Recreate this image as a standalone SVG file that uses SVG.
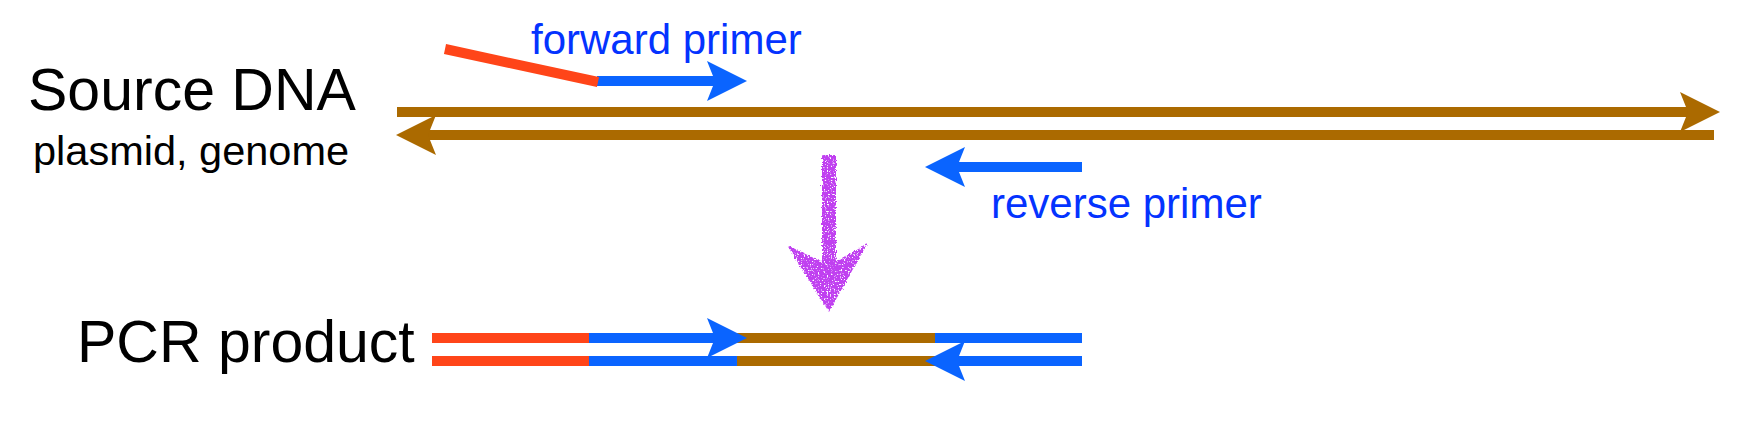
<svg xmlns="http://www.w3.org/2000/svg" width="1748" height="432" viewBox="0 0 1748 432">
  <style>
    .lbl { font-family: "Liberation Sans", Arial, Helvetica, sans-serif; fill: #000; }
    .big { font-size: 59px; }
    .sub { font-size: 41.5px; }
    .plbl { font-family: "Liberation Sans", Arial, Helvetica, sans-serif; font-size: 42px; fill: #0433FF; }
    .strand { stroke-width: 10; fill: none; stroke-linecap: butt; }
    .brown { stroke: #AB6A00; }
    .blue { stroke: #0A64FF; }
    .red { stroke: #FF4519; }
  </style>
  <defs>
    <marker id="ah-brown" markerUnits="userSpaceOnUse" viewBox="-12 -22 44 44" refX="0" refY="0" markerWidth="44" markerHeight="44" orient="auto">
      <path d="M30,0 L-10,-20 L-2,0 L-10,20 Z" fill="#AB6A00"/>
    </marker>
    <marker id="ah-blue" markerUnits="userSpaceOnUse" viewBox="-12 -22 44 44" refX="0" refY="0" markerWidth="44" markerHeight="44" orient="auto">
      <path d="M30,0 L-10,-20 L-2,0 L-10,20 Z" fill="#0A64FF"/>
    </marker>
    <filter id="chalk" x="-30%" y="-10%" width="160%" height="120%">
      <feTurbulence type="fractalNoise" baseFrequency="0.55" numOctaves="2" seed="4" result="n"/>
      <feDisplacementMap in="SourceGraphic" in2="n" scale="5" xChannelSelector="R" yChannelSelector="G" result="d"/>
      <feTurbulence type="fractalNoise" baseFrequency="0.7" numOctaves="1" seed="9" result="s"/>
      <feColorMatrix in="s" type="matrix" values="0 0 0 0 0  0 0 0 0 0  0 0 0 0 0  0 0 0 -8 5.6" result="mask"/>
      <feComposite in="d" in2="mask" operator="in"/>
    </filter>
  </defs>

  <g id="source-dna">
    <text class="lbl big" x="28" y="110">Source DNA</text>
    <text class="lbl sub" x="33" y="165">plasmid, genome</text>
    <line class="strand brown" x1="397" y1="112" x2="1690" y2="112" marker-end="url(#ah-brown)"/>
    <line class="strand brown" x1="1714" y1="135" x2="426" y2="135" marker-end="url(#ah-brown)"/>
  </g>

  <g id="forward-primer">
    <line class="strand blue" x1="597" y1="81" x2="717" y2="81" marker-end="url(#ah-blue)"/>
    <line class="strand red" x1="445" y1="49" x2="598" y2="82"/>
    <text class="plbl" x="531" y="54">forward primer</text>
  </g>

  <g id="reverse-primer">
    <line class="strand blue" x1="1082" y1="167" x2="955" y2="167" marker-end="url(#ah-blue)"/>
    <text class="plbl" x="991" y="218">reverse primer</text>
  </g>

  <g id="pcr-product">
    <text class="lbl big" x="77" y="362">PCR product</text>
    <line class="strand red" x1="432" y1="338" x2="590" y2="338"/>
    <line class="strand red" x1="432" y1="361" x2="590" y2="361"/>
    <line class="strand brown" x1="735" y1="338" x2="936" y2="338"/>
    <line class="strand brown" x1="736" y1="361" x2="945" y2="361"/>
    <line class="strand blue" x1="589" y1="338" x2="717" y2="338" marker-end="url(#ah-blue)"/>
    <line class="strand blue" x1="589" y1="361" x2="737" y2="361"/>
    <line class="strand blue" x1="935" y1="338" x2="1082" y2="338"/>
    <line class="strand blue" x1="1082" y1="361" x2="955" y2="361" marker-end="url(#ah-blue)"/>
  </g>

  <g id="connectors">
    <g id="pcr-arrow" filter="url(#chalk)" fill="#C040F0">
      <rect x="822" y="155" width="14" height="115"/>
      <path d="M787,245 L822,262 L836,262 L867,244 L829,312 Z"/>
    </g>
  </g>
</svg>
